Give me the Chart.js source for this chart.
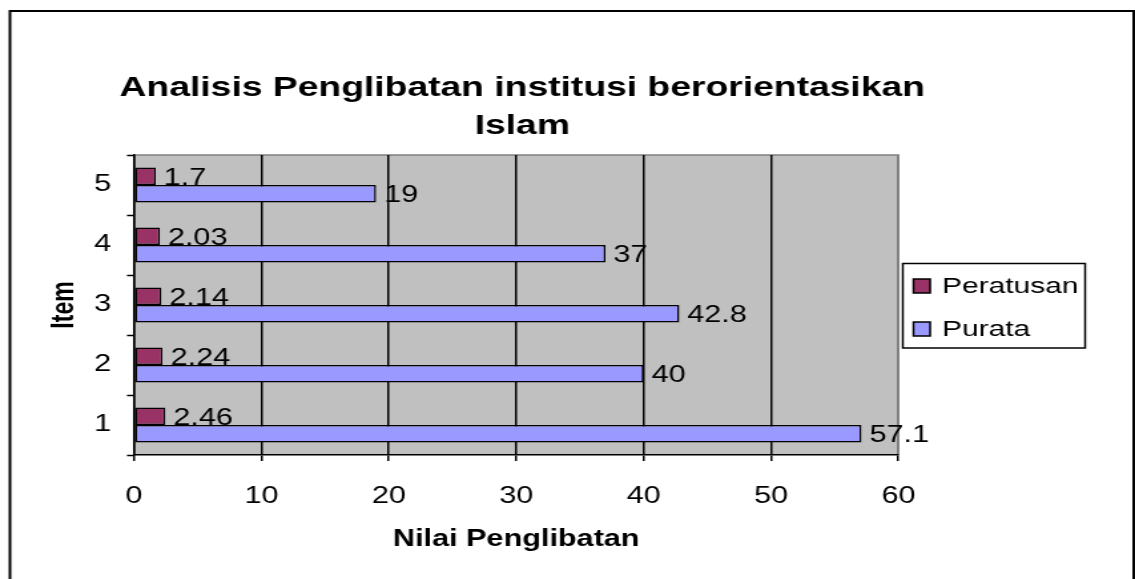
<!DOCTYPE html>
<html>
<head>
<meta charset="utf-8">
<title>Analisis Penglibatan institusi berorientasikan Islam</title>
<script src="https://cdn.jsdelivr.net/npm/chart.js@4/dist/chart.umd.min.js"></script>
<style>
  html, body { margin: 0; padding: 0; background: #fff; overflow: hidden; }
  /* the original picture is stretched sideways, so draw narrow and stretch */
  #chart { position: absolute; left: 0; top: 0; transform-origin: 0 0; transform: scaleX(1.3306); }
</style>
</head>
<body>
<canvas id="chart" width="853" height="579"></canvas>
<script>

/********************************/
/***** DATA *****/
/********************************/

const items = ['1', '2', '3', '4', '5']
const peratusan = [2.46, 2.24, 2.14, 2.03, 1.7]
const purata = [57.1, 40, 42.8, 37, 19]
const xTicks = [0, 10, 20, 30, 40, 50, 60]

const titleLines = ['Analisis Penglibatan institusi berorientasikan', 'Islam']
const seriesNames = ['Peratusan', 'Purata']
const seriesColors = ['#993366', '#9999FF']

const FONT = "'Liberation Sans', Arial, sans-serif"

/************************************************************/

/**********/
/********** BACKGROUND, PLOT AREA, FRAME **********/
/**********/

const backgroundPlugin = {
  id: 'background',
  beforeDraw: (chart) => {
    const ctx = chart.ctx
    const a = chart.chartArea
    ctx.save()
    ctx.fillStyle = '#fff'
    ctx.fillRect(0, 0, chart.width, chart.height)

    // outer frame (no bottom edge in the picture)
    ctx.strokeStyle = '#000'
    ctx.lineWidth = 2
    ctx.beginPath()
    ctx.moveTo(7.5, chart.height + 5)
    ctx.lineTo(7.5, 11)
    ctx.lineTo(852, 11)
    ctx.lineTo(852, chart.height + 5)
    ctx.stroke()

    // grey plot area
    ctx.fillStyle = '#C0C0C0'
    ctx.fillRect(a.left, a.top, a.right - a.left, a.bottom - a.top)
    ctx.strokeStyle = '#808080'
    ctx.lineWidth = 1.5
    ctx.beginPath()
    ctx.moveTo(a.left, a.top)
    ctx.lineTo(a.right, a.top)
    ctx.lineTo(a.right, a.bottom)
    ctx.stroke()
    ctx.restore()
  }
}

/**********/
/********** TITLE, LEGEND, VALUE LABELS **********/
/**********/

const decorPlugin = {
  id: 'decor',
  afterDatasetsDraw: (chart) => {
    const ctx = chart.ctx
    ctx.save()
    ctx.fillStyle = '#000'
    ctx.textBaseline = 'middle'
    ctx.textAlign = 'left'
    ctx.font = '23px ' + FONT
    chart.data.datasets.forEach((ds, i) => {
      chart.getDatasetMeta(i).data.forEach((bar, j) => {
        ctx.fillText(String(ds.data[j]), bar.x + 6, bar.y + 2)
      })
    })
    ctx.restore()
  },
  afterDraw: (chart) => {
    const ctx = chart.ctx
    ctx.save()

    // title
    ctx.fillStyle = '#000'
    ctx.textAlign = 'center'
    ctx.textBaseline = 'middle'
    ctx.font = 'bold 28px ' + FONT
    titleLines.forEach((line, i) => {
      ctx.fillText(line, 392.5, 88 + i * 38)
    })

    // legend box
    ctx.strokeStyle = '#000'
    ctx.lineWidth = 1.5
    ctx.fillStyle = '#fff'
    ctx.fillRect(678.5, 263.5, 137, 84.5)
    ctx.strokeRect(678.5, 263.5, 137, 84.5)
    ctx.font = '22.5px ' + FONT
    ctx.textAlign = 'left'
    seriesNames.forEach((name, i) => {
      const y = 286 + i * 43
      ctx.fillStyle = seriesColors[i]
      ctx.fillRect(686.5, y - 7, 12.5, 14)
      ctx.strokeRect(686.5, y - 7, 12.5, 14)
      ctx.fillStyle = '#000'
      ctx.fillText(name, 708, y + 1)
    })
    ctx.restore()
  }
}

/************************************************************/

/**********/
/********** CHART **********/
/**********/

const ctx = document.getElementById('chart')

const chart = new Chart(ctx, {
  type: 'bar',
  data: {
    labels: items,
    datasets: [
      {
        label: seriesNames[0],
        data: peratusan,
        backgroundColor: seriesColors[0],
        borderColor: '#000',
        borderWidth: 1.5,
        borderSkipped: false,
        categoryPercentage: 0.58,
        barPercentage: 1.0
      },
      {
        label: seriesNames[1],
        data: purata,
        backgroundColor: seriesColors[1],
        borderColor: '#000',
        borderWidth: 1.5,
        borderSkipped: false,
        categoryPercentage: 0.58,
        barPercentage: 1.0
      }
    ]
  },
  options: {
    indexAxis: 'y',
    responsive: false,
    animation: false,
    devicePixelRatio: 1,
    layout: { padding: { left: 0, top: 155, right: 177.8, bottom: 0 } },
    plugins: {
      legend: { display: false },
      title: { display: false },
      tooltip: { enabled: false }
    },
    scales: {
      x: {
        type: 'linear',
        min: xTicks[0],
        max: xTicks[xTicks.length - 1],
        afterFit: (scale) => { scale.height = 124 },
        afterBuildTicks: (scale) => {
          scale.ticks = xTicks.map((v) => ({ value: v }))
        },
        ticks: {
          color: '#000',
          font: { family: FONT, size: 23 },
          padding: 22,
          maxRotation: 0
        },
        grid: {
          color: (c) => (c.tick && c.tick.value === 60 ? '#808080' : '#000'),
          lineWidth: 1.5,
          drawTicks: true,
          tickLength: 6,
          tickColor: '#000',
          tickWidth: 1.5
        },
        border: { display: true, color: '#000', width: 1.5 },
        title: {
          display: true,
          text: 'Nilai Penglibatan',
          color: '#000',
          font: { family: FONT, size: 23, weight: 'bold' },
          padding: { top: 0, bottom: 26 }
        }
      },
      y: {
        type: 'category',
        reverse: true,
        afterFit: (scale) => { scale.width = 100.75 },
        ticks: {
          color: '#000',
          font: { family: FONT, size: 23 },
          padding: 12
        },
        grid: {
          offset: true,
          drawOnChartArea: false,
          drawTicks: true,
          tickLength: 5.3,
          tickColor: '#000',
          tickWidth: 1.5,
          color: '#000'
        },
        border: { display: true, color: '#000', width: 1.5 },
        title: {
          display: true,
          text: 'Item',
          color: '#000',
          font: { family: FONT, size: 23, weight: 'bold' },
          padding: { top: 35, bottom: 0 }
        }
      }
    }
  },
  plugins: [backgroundPlugin, decorPlugin]
})

</script>
</body>
</html>
